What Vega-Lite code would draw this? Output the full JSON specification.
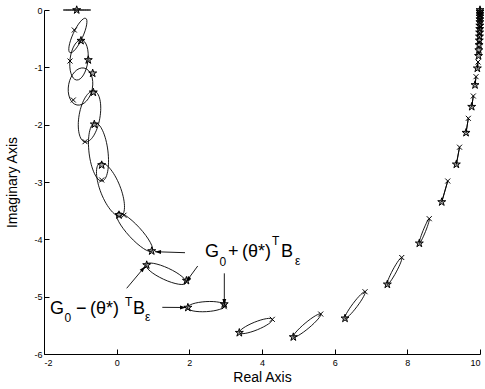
{
  "$schema": "https://vega.github.io/schema/vega-lite/v6.json",
  "width": 436,
  "height": 344,
  "autosize": {"type": "none"},
  "padding": {"left": 44, "top": 10, "right": 5, "bottom": 35},
  "config": {
    "view": {"stroke": null},
    "axis": {
      "grid": false,
      "domainColor": "#000",
      "tickColor": "#000",
      "labelColor": "#000",
      "titleColor": "#000",
      "labelFont": "Liberation Sans",
      "titleFont": "Liberation Sans",
      "titleFontWeight": "normal",
      "labelFontSize": 9,
      "titleFontSize": 14,
      "tickSize": -5,
      "domainWidth": 1,
      "tickWidth": 1
    }
  },
  "datasets": {
    "ellipses": [
      {"e": 0, "o": 0, "x": -1.469, "y": 0}, {"e": 0, "o": 1, "x": -1.1, "y": 0}, {"e": 0, "o": 2, "x": -0.715, "y": 0}, {"e": 0, "o": 3, "x": -1.1, "y": 0},
      {"e": 1, "o": 0, "x": -0.852, "y": -0.145}, {"e": 1, "o": 1, "x": -0.943, "y": -0.481}, {"e": 1, "o": 2, "x": -1.284, "y": -0.745}, {"e": 1, "o": 3, "x": -1.194, "y": -0.408},
      {"e": 2, "o": 0, "x": -0.968, "y": -0.523}, {"e": 2, "o": 1, "x": -0.792, "y": -0.891}, {"e": 2, "o": 2, "x": -1.105, "y": -1.221}, {"e": 2, "o": 3, "x": -1.282, "y": -0.853},
      {"e": 3, "o": 0, "x": -0.899, "y": -1.012}, {"e": 3, "o": 1, "x": -0.671, "y": -1.373}, {"e": 3, "o": 2, "x": -1.092, "y": -1.657}, {"e": 3, "o": 3, "x": -1.320, "y": -1.296},
      {"e": 4, "o": 0, "x": -0.624, "y": -1.413}, {"e": 4, "o": 1, "x": -0.464, "y": -1.889}, {"e": 4, "o": 2, "x": -0.871, "y": -2.302}, {"e": 4, "o": 3, "x": -1.031, "y": -1.826},
      {"e": 5, "o": 0, "x": -0.596, "y": -1.971}, {"e": 5, "o": 1, "x": -0.241, "y": -2.458}, {"e": 5, "o": 2, "x": -0.404, "y": -2.983}, {"e": 5, "o": 3, "x": -0.759, "y": -2.496},
      {"e": 6, "o": 0, "x": -0.459, "y": -2.669}, {"e": 6, "o": 1, "x": 0.086, "y": -3.066}, {"e": 6, "o": 2, "x": 0.119, "y": -3.593}, {"e": 6, "o": 3, "x": -0.426, "y": -3.196},
      {"e": 7, "o": 0, "x": 0.009, "y": -3.541}, {"e": 7, "o": 1, "x": 0.623, "y": -3.796}, {"e": 7, "o": 2, "x": 0.973, "y": -4.204}, {"e": 7, "o": 3, "x": 0.359, "y": -3.949},
      {"e": 8, "o": 0, "x": 0.808, "y": -4.439}, {"e": 8, "o": 1, "x": 1.427, "y": -4.506}, {"e": 8, "o": 2, "x": 1.909, "y": -4.762}, {"e": 8, "o": 3, "x": 1.289, "y": -4.696},
      {"e": 9, "o": 0, "x": 1.944, "y": -5.193}, {"e": 9, "o": 1, "x": 2.473, "y": -5.261}, {"e": 9, "o": 2, "x": 2.982, "y": -5.154}, {"e": 9, "o": 3, "x": 2.456, "y": -5.086},
      {"e": 10, "o": 0, "x": 3.376, "y": -5.629}, {"e": 10, "o": 1, "x": 3.871, "y": -5.577}, {"e": 10, "o": 2, "x": 4.284, "y": -5.395}, {"e": 10, "o": 3, "x": 3.789, "y": -5.447},
      {"e": 11, "o": 0, "x": 4.862, "y": -5.704}, {"e": 11, "o": 1, "x": 5.292, "y": -5.544}, {"e": 11, "o": 2, "x": 5.616, "y": -5.303}, {"e": 11, "o": 3, "x": 5.186, "y": -5.464},
      {"e": 12, "o": 0, "x": 6.285, "y": -5.378}, {"e": 12, "o": 1, "x": 6.616, "y": -5.172}, {"e": 12, "o": 2, "x": 6.836, "y": -4.914}, {"e": 12, "o": 3, "x": 6.506, "y": -5.120},
      {"e": 13, "o": 0, "x": 7.450, "y": -4.785}, {"e": 13, "o": 1, "x": 7.696, "y": -4.568}, {"e": 13, "o": 2, "x": 7.846, "y": -4.317}, {"e": 13, "o": 3, "x": 7.600, "y": -4.534},
      {"e": 14, "o": 0, "x": 8.330, "y": -4.070}, {"e": 14, "o": 1, "x": 8.500, "y": -3.863}, {"e": 14, "o": 2, "x": 8.603, "y": -3.640}, {"e": 14, "o": 3, "x": 8.434, "y": -3.847},
      {"e": 15, "o": 0, "x": 8.947, "y": -3.349}, {"e": 15, "o": 1, "x": 9.112, "y": -2.983},
      {"e": 16, "o": 0, "x": 9.349, "y": -2.692}, {"e": 16, "o": 1, "x": 9.437, "y": -2.393},
      {"e": 17, "o": 0, "x": 9.616, "y": -2.140}, {"e": 17, "o": 1, "x": 9.679, "y": -1.889},
      {"e": 18, "o": 0, "x": 9.772, "y": -1.687}, {"e": 18, "o": 1, "x": 9.816, "y": -1.500},
      {"e": 19, "o": 0, "x": 9.863, "y": -1.308}, {"e": 19, "o": 1, "x": 9.891, "y": -1.163},
      {"e": 20, "o": 0, "x": 9.927, "y": -1.017}, {"e": 20, "o": 1, "x": 9.946, "y": -0.907}
    ],
    "stars": [
      {"x": -1.100, "y": 0}, {"x": -0.982, "y": -0.535}, {"x": -0.781, "y": -0.872}, {"x": -0.660, "y": -1.104},
      {"x": -0.643, "y": -1.436}, {"x": -0.615, "y": -1.994}, {"x": -0.412, "y": -2.704}, {"x": 0.064, "y": -3.576},
      {"x": 0.965, "y": -4.204}, {"x": 0.827, "y": -4.448}, {"x": 1.920, "y": -4.720}, {"x": 1.960, "y": -5.190},
      {"x": 2.960, "y": -5.130}, {"x": 3.376, "y": -5.629}, {"x": 4.862, "y": -5.704}, {"x": 6.285, "y": -5.378},
      {"x": 7.450, "y": -4.785}, {"x": 8.330, "y": -4.070}, {"x": 8.947, "y": -3.349}, {"x": 9.349, "y": -2.692},
      {"x": 9.616, "y": -2.140}, {"x": 9.772, "y": -1.687}, {"x": 9.863, "y": -1.308}, {"x": 9.927, "y": -1.017},
      {"x": 9.960, "y": -0.80}, {"x": 9.968, "y": -0.70}, {"x": 9.975, "y": -0.61}, {"x": 9.981, "y": -0.53},
      {"x": 9.986, "y": -0.46}, {"x": 9.990, "y": -0.39}, {"x": 9.993, "y": -0.33}, {"x": 9.995, "y": -0.27},
      {"x": 9.997, "y": -0.21}, {"x": 9.998, "y": -0.16}, {"x": 9.999, "y": -0.11}, {"x": 10, "y": -0.07},
      {"x": 10, "y": -0.03}, {"x": 10, "y": 0}
    ],
    "xmarks": [
      {"x": -1.166, "y": -0.349}, {"x": -1.284, "y": -0.890}, {"x": -1.194, "y": -1.570}, {"x": -0.871, "y": -2.297},
      {"x": -0.412, "y": -2.965}, {"x": 0.200, "y": -3.580}, {"x": 2.963, "y": -5.175}, {"x": 4.284, "y": -5.395},
      {"x": 5.616, "y": -5.303}, {"x": 6.836, "y": -4.914}, {"x": 7.846, "y": -4.317}, {"x": 8.603, "y": -3.640},
      {"x": 9.112, "y": -2.983}, {"x": 9.437, "y": -2.393}, {"x": 9.679, "y": -1.889}, {"x": 9.816, "y": -1.500},
      {"x": 9.891, "y": -1.163}, {"x": 9.946, "y": -0.907}, {"x": 9.965, "y": -0.75}, {"x": 9.978, "y": -0.57},
      {"x": 9.988, "y": -0.42}, {"x": 9.994, "y": -0.30}, {"x": 9.998, "y": -0.18}, {"x": 10, "y": -0.09}
    ],
    "arrows": [
      {"a": 1, "o": 0, "x": 1.881, "y": -4.233}, {"a": 1, "o": 1, "x": 1.055, "y": -4.216},
      {"a": 2, "o": 0, "x": 0.276, "y": -4.854}, {"a": 2, "o": 1, "x": 0.780, "y": -4.474},
      {"a": 3, "o": 0, "x": 2.231, "y": -4.465}, {"a": 3, "o": 1, "x": 1.909, "y": -4.744},
      {"a": 4, "o": 0, "x": 1.256, "y": -5.186}, {"a": 4, "o": 1, "x": 1.909, "y": -5.189},
      {"a": 5, "o": 0, "x": 2.963, "y": -4.593}, {"a": 5, "o": 1, "x": 2.963, "y": -5.146}
    ],
    "heads": [
      {"x": 1.138, "y": -4.218, "heading": 182},
      {"x": 0.728, "y": -4.514, "heading": 310},
      {"x": 1.958, "y": -4.703, "heading": 126},
      {"x": 1.826, "y": -5.189, "heading": 0},
      {"x": 2.963, "y": -5.093, "heading": 90}
    ],
    "mainText": [
      {"x": 2.432, "y": -4.303, "t": "G"}, {"x": 3.065, "y": -4.303, "t": "+"}, {"x": 3.450, "y": -4.303, "t": "(θ*)"}, {"x": 4.523, "y": -4.303, "t": "B"},
      {"x": -1.835, "y": -5.308, "t": "G"}, {"x": -1.119, "y": -5.308, "t": "−"}, {"x": -0.734, "y": -5.308, "t": "(θ*)"}, {"x": 0.450, "y": -5.308, "t": "B"}
    ],
    "smallText": [
      {"x": 2.831, "y": -4.465, "t": "0"}, {"x": 4.909, "y": -4.439, "t": "ε"}, {"x": 4.276, "y": -4.099, "t": "T"},
      {"x": -1.436, "y": -5.442, "t": "0"}, {"x": 0.780, "y": -5.425, "t": "ε"}, {"x": 0.230, "y": -5.163, "t": "T"}
    ]
  },
  "encoding": {
    "x": {"field": "x", "type": "quantitative", "scale": {"domain": [-2, 10], "nice": false, "zero": false},
      "axis": {"title": "Real Axis", "values": [-2, 0, 2, 4, 6, 8, 10], "labelExpr": "'' + datum.value", "titlePadding": 3, "labelPadding": 9}},
    "y": {"field": "y", "type": "quantitative", "scale": {"domain": [-6, 0], "nice": false, "zero": false},
      "axis": {"title": "Imaginary Axis", "values": [-6, -5, -4, -3, -2, -1, 0], "labelExpr": "'' + datum.value", "titlePadding": 14, "labelPadding": 7}}
  },
  "layer": [
    {
      "data": {"name": "ellipses"},
      "mark": {"type": "line", "interpolate": "cardinal-closed", "tension": -0.65, "color": "#000", "strokeWidth": 0.9},
      "encoding": {"detail": {"field": "e", "type": "nominal"}, "order": {"field": "o", "type": "quantitative"}}
    },
    {
      "data": {"name": "arrows"},
      "mark": {"type": "line", "color": "#000", "strokeWidth": 0.9},
      "encoding": {"detail": {"field": "a", "type": "nominal"}, "order": {"field": "o", "type": "quantitative"}}
    },
    {
      "data": {"name": "heads"},
      "mark": {"type": "point", "shape": "M1,0L-1,-0.65L-1,0.65Z", "filled": true, "color": "#000", "size": 36, "opacity": 1},
      "encoding": {"angle": {"field": "heading", "type": "quantitative", "scale": null}}
    },
    {
      "data": {"name": "stars"},
      "mark": {"type": "point", "shape": "M0,-1L0.225,-0.309L0.951,-0.309L0.363,0.118L0.588,0.809L0,0.382L-0.588,0.809L-0.363,0.118L-0.951,-0.309L-0.225,-0.309Z", "filled": true, "fill": "#000", "fillOpacity": 0.35, "stroke": "#000", "strokeWidth": 1, "size": 70, "opacity": 1}
    },
    {
      "data": {"name": "xmarks"},
      "mark": {"type": "point", "shape": "M-1,-1L1,1M1,-1L-1,1", "filled": false, "color": "#000", "strokeWidth": 1, "size": 25, "opacity": 1}
    },
    {
      "data": {"name": "mainText"},
      "mark": {"type": "text", "align": "left", "baseline": "alphabetic", "font": "Liberation Sans", "fontSize": 18, "color": "#000"},
      "encoding": {"text": {"field": "t"}}
    },
    {
      "data": {"name": "smallText"},
      "mark": {"type": "text", "align": "left", "baseline": "alphabetic", "font": "Liberation Sans", "fontSize": 12, "color": "#000"},
      "encoding": {"text": {"field": "t"}}
    }
  ]
}
